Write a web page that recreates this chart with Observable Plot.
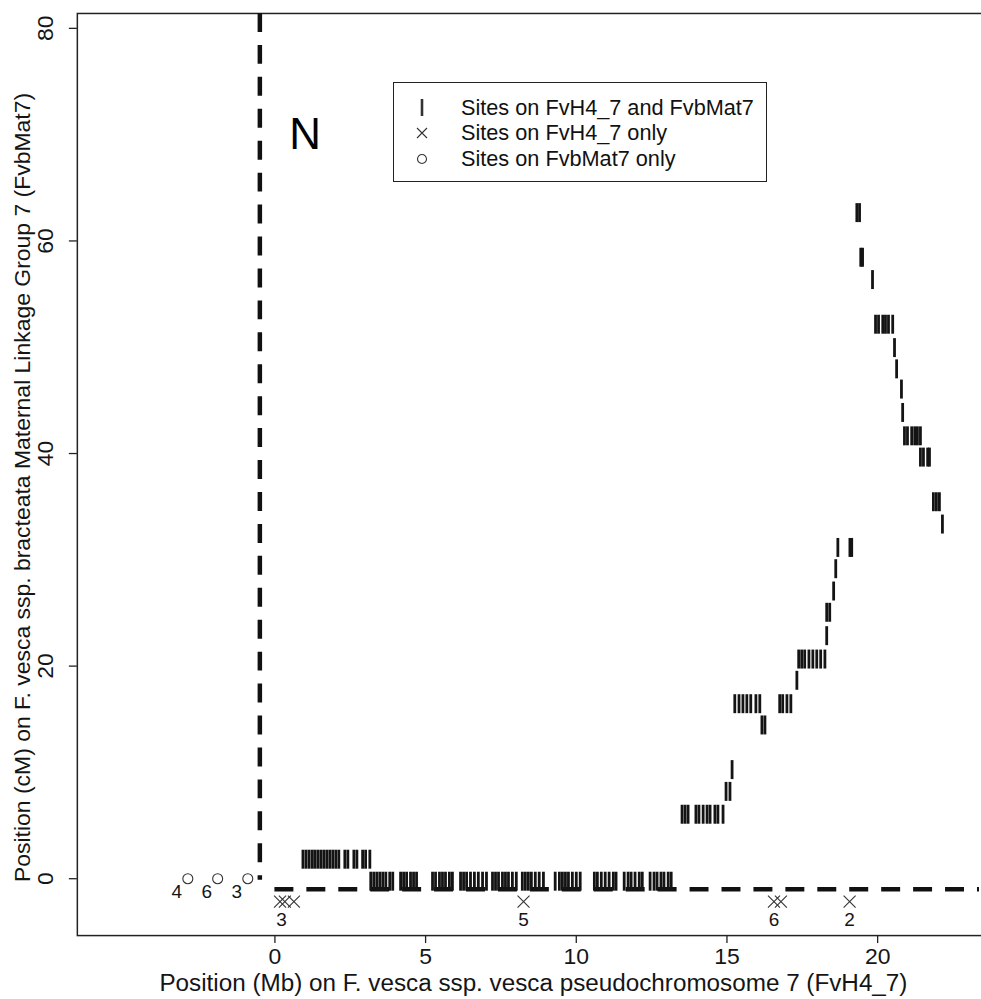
<!DOCTYPE html>
<html><head><meta charset="utf-8">
<script src="https://cdn.jsdelivr.net/npm/d3@7"></script>
<script src="https://cdn.jsdelivr.net/npm/@observablehq/plot@0.6"></script>
<style>
html,body{margin:0;padding:0;background:#fff;overflow:hidden;}
#wrap{position:relative;width:981px;height:999px;overflow:hidden;}
#legend{position:absolute;left:393px;top:82px;width:374px;height:100px;border:1.5px solid #222;background:#fff;box-sizing:border-box;font-family:"Liberation Sans",Arial,sans-serif;font-size:21.7px;color:#111;}
#legend .row{position:absolute;left:0;height:26px;display:flex;align-items:center;white-space:nowrap;}
#legend .row svg{margin-left:20px;margin-right:31px;}
</style></head>
<body><div id="wrap"><div id="chart"></div><div id="legend"></div></div>
<script>
// ---- data ----
const xTicks = [0, 5, 10, 15, 20];
const yTicks = [0, 20, 40, 60, 80];
const xTitle = "Position (Mb) on F. vesca ssp. vesca pseudochromosome 7 (FvH4_7)";
const yTitle = "Position (cM) on F. vesca ssp. bracteata Maternal Linkage Group 7 (FvbMat7)";
const legendLabels = ["Sites on FvH4_7 and FvbMat7", "Sites on FvH4_7 only", "Sites on FvbMat7 only"];

// Sites on both: [cM, [Mb positions]]
const bothSites = [
  [0.0, [3.18,3.28,3.38,3.48,3.58,3.68,3.81,3.91, 4.17,4.27,4.37,4.50,4.60,4.70,
         5.23,5.33,5.46,5.56,5.66,5.79,5.89, 6.16,6.26,6.36,6.49,6.62,6.75,6.89,7.02,
         7.22,7.32,7.42,7.55,7.65,7.75,7.88,8.01, 8.21,8.31,8.41,8.51,8.64,8.77,8.91,
         9.30,9.44,9.54,9.64,9.74,9.87,10.00,10.13, 10.60,10.70,10.83,10.96,11.09,11.23,11.32,
         11.59,11.72,11.82,11.95,12.09,12.19, 12.45,12.58,12.68,12.81,12.91,13.05,13.15]],
  [2.07, [0.93,1.03,1.13,1.23,1.32,1.42,1.52,1.62,1.72,1.82,1.92,2.02,2.12,2.32,2.42,2.62,2.72,2.91,3.01,3.15]],
  [6.3,  [13.51,13.61,13.71,13.97,14.07,14.21,14.34,14.44,14.60,14.70,14.87]],
  [8.45, [14.97,15.10]],
  [10.5, [15.17]],
  [14.7, [16.16,16.26]],
  [16.7, [15.26,15.40,15.53,15.66,15.79,15.96,16.09,16.75,16.85,16.99,17.12]],
  [18.9, [17.32]],
  [20.9, [17.38,17.48,17.58,17.72,17.85,17.98,18.11,18.25]],
  [23.1, [18.31]],
  [25.3, [18.31,18.41]],
  [27.3, [18.54]],
  [29.4, [18.61]],
  [31.4, [18.68,19.08,19.14]],
  [33.6, [22.15]],
  [35.7, [21.85,21.95,22.05]],
  [39.9, [21.42,21.52,21.66,21.72]],
  [41.9, [20.89,20.99,21.13,21.23,21.32,21.42]],
  [44.1, [20.83]],
  [46.3, [20.79]],
  [48.2, [20.63]],
  [50.2, [20.56]],
  [52.4, [19.93,20.03,20.17,20.26,20.36,20.50]],
  [56.6, [19.83]],
  [58.7, [19.44,19.50]],
  [62.9, [19.31,19.40]]
];

// Sites on FvH4_7 only
const h4OnlyMb = [0.17, 0.33, 0.63, 8.25, 16.56, 16.79, 19.07];
const h4OnlyCm = [-2.16, -2.16, -2.16, -2.16, -2.16, -2.16, -2.16];
const h4LabelMb = [0.22, 8.25, 16.56, 19.07];
const h4Labels = ["3", "5", "6", "2"];

// Sites on FvbMat7 only
const matOnlyMb = [-2.89, -1.90, -0.90];
const matOnlyCm = [0, 0, 0];
const matLabels = ["4", "6", "3"];

// boundary lines (dashed) and annotation
const vBoundaryMb = [-0.5];
const vBoundaryCm = [-0.15, 81.4];   // from, to
const hBoundaryCm = [-1];
const hBoundaryMb = [0, 23.38];      // from, to
const annotText = ["N"];
const annotMb = [1.0];
const annotCm = [70];

// ---- build tables ----
const bothData = bothSites.flatMap(([cm, mbs]) => mbs.map(mb => ({mb, cm})));
const h4Data = h4OnlyMb.map((mb, i) => ({mb, cm: h4OnlyCm[i]}));
const h4LabelData = h4LabelMb.map((mb, i) => ({mb, cm: h4OnlyCm[0], label: h4Labels[i]}));
const matData = matOnlyMb.map((mb, i) => ({mb, cm: matOnlyCm[i], label: matLabels[i]}));
const vLine = vBoundaryMb.map(mb => ({mb, cm1: vBoundaryCm[0], cm2: vBoundaryCm[1]}));
const hLine = hBoundaryCm.map(cm => ({cm, mb1: hBoundaryMb[0], mb2: hBoundaryMb[1]}));
const annot = annotText.map((t, i) => ({t, mb: annotMb[i], cm: annotCm[i]}));

const tickSym = {draw(ctx) { ctx.moveTo(0, -7); ctx.lineTo(0, 12); }};
const crossSym = {draw(ctx) { ctx.moveTo(-6, -6); ctx.lineTo(6, 6); ctx.moveTo(-6, 6); ctx.lineTo(6, -6); }};

const FONT = '"Liberation Sans", Arial, sans-serif';
const ink = "#151515";

const chart = Plot.plot({
  width: 983, height: 999,
  marginLeft: 77, marginRight: 2, marginTop: 13, marginBottom: 62,
  x: {domain: [-6.556, 23.38]},
  y: {domain: [-5.35, 81.4]},
  style: {fontFamily: FONT, background: "white", color: ink, overflow: "visible"},
  marks: [
    Plot.frame({stroke: "#222", strokeWidth: 1.5, insetRight: -3}),
    Plot.axisX(xTicks, {tickSize: 8, fill: "none", stroke: "#222", strokeWidth: 1.3, label: null}),
    Plot.axisY(yTicks, {tickSize: 8, fill: "none", stroke: "#222", strokeWidth: 1.3, label: null}),
    Plot.text(xTicks, {x: d => d, frameAnchor: "bottom", dy: 21, text: d => String(d), fontSize: 23, lineAnchor: "middle", textAnchor: "middle", fill: ink}),
    Plot.text(yTicks, {y: d => d, frameAnchor: "left", dx: -32, text: d => String(d), fontSize: 23, rotate: -90, lineAnchor: "middle", textAnchor: "middle", fill: ink}),
    Plot.text([xTitle], {frameAnchor: "bottom", dy: 48, dx: 5, text: d => d, fontSize: 24.3, lineAnchor: "middle", textAnchor: "middle", fill: ink}),
    Plot.text([yTitle], {frameAnchor: "left", dx: -55, dy: 13, text: d => d, fontSize: 23, rotate: -90, lineAnchor: "middle", textAnchor: "middle", fill: ink}),
    // boundary dashed lines
    Plot.ruleX(vLine, {x: "mb", y1: "cm2", y2: "cm1", stroke: "#111", strokeWidth: 4.5, strokeDasharray: "19,13"}),
    Plot.ruleY(hLine, {y: "cm", x1: "mb1", x2: "mb2", stroke: "#111", strokeWidth: 4.5, strokeDasharray: "19,13"}),
    // sites on both
    Plot.dot(bothData, {x: "mb", y: "cm", symbol: tickSym, fill: "none", stroke: "#141414", strokeWidth: 2.8}),
    // sites on FvH4_7 only
    Plot.dot(h4Data, {x: "mb", y: "cm", symbol: crossSym, fill: "none", stroke: "#333", strokeWidth: 1.1}),
    Plot.text(h4LabelData, {x: "mb", y: "cm", text: "label", dy: 18, fontSize: 19, fill: ink}),
    // sites on FvbMat7 only
    Plot.dot(matData, {x: "mb", y: "cm", r: 5, fill: "none", stroke: "#333", strokeWidth: 1.1}),
    Plot.text(matData, {x: "mb", y: "cm", text: "label", dx: -11, dy: 13, fontSize: 19, fill: ink}),
    // N annotation
    Plot.text(annot, {x: "mb", y: "cm", text: "t", fontSize: 44, fill: "#000"})
  ]
});
document.getElementById("chart").appendChild(chart);

// legend
const legend = document.getElementById("legend");
const rowTops = [12, 37, 63];
const symbolsSvg = [
  '<svg width="16" height="22" viewBox="-8 -11 16 22"><line x1="0" y1="-9" x2="0" y2="8" stroke="#333" stroke-width="2.6"/></svg>',
  '<svg width="16" height="22" viewBox="-8 -11 16 22"><path d="M-5,-5L5,5M-5,5L5,-5" stroke="#333" stroke-width="1.1" fill="none"/></svg>',
  '<svg width="16" height="22" viewBox="-8 -11 16 22"><circle r="4.5" stroke="#333" stroke-width="1.1" fill="none"/></svg>'
];
legendLabels.forEach((lab, i) => {
  const row = document.createElement("div");
  row.className = "row";
  row.style.top = rowTops[i] + "px";
  row.innerHTML = symbolsSvg[i] + "<span>" + lab + "</span>";
  legend.appendChild(row);
});
</script>
</body></html>
